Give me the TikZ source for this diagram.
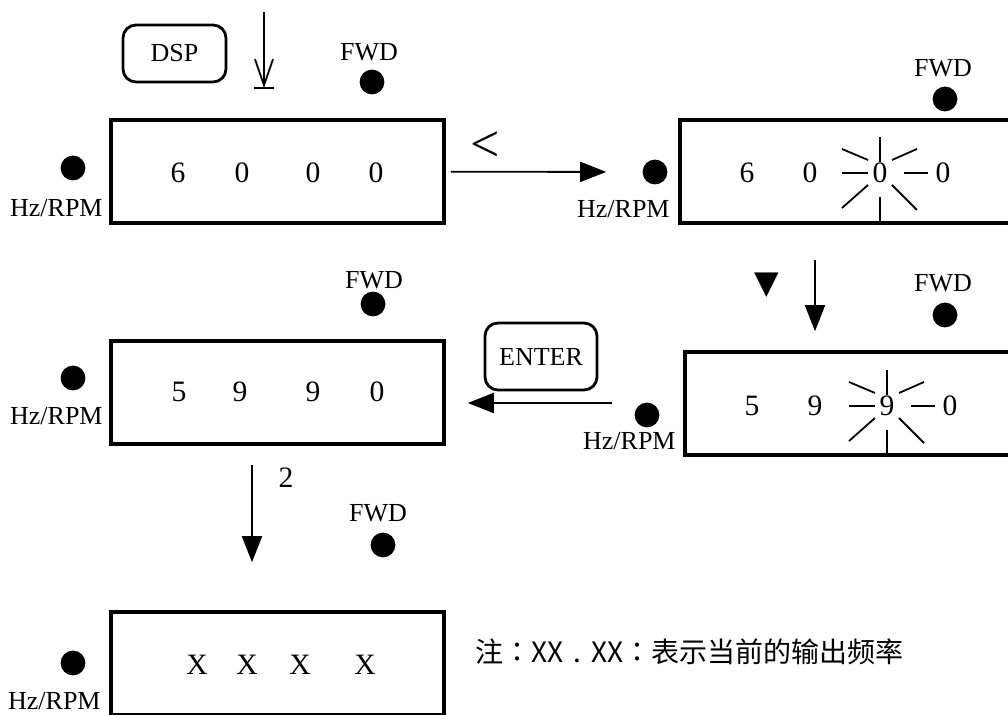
\documentclass[tikz,border=0pt]{standalone}
\usepackage{fontspec}
\setmainfont{Liberation Serif}
\newfontfamily\cjkfont{Noto Sans CJK SC}
\newfontfamily\cjkpunct{Noto Sans CJK TC}
\newfontfamily\symfont{DejaVu Sans}
\usetikzlibrary{arrows.meta}

\begin{document}
\begin{tikzpicture}[x=0.5pt,y=-0.5pt,>={Triangle[length=13pt,width=10pt]},
  font=\fontsize{13}{15}\selectfont,
  disp/.style={draw,line width=1.8pt,minimum width=166.5pt,minimum height=51.5pt,inner sep=0pt},
  key/.style={draw,line width=1.4pt,rounded corners=6.5pt,inner sep=0pt},
  lamp/.style={circle,fill,inner sep=0pt,minimum size=12.4pt},
  digit/.style={font=\fontsize{14.8}{17}\selectfont,inner sep=0pt},
  lbl/.style={inner sep=0pt},
  ray/.style={line width=0.9pt},
  flow/.style={->,line width=0.9pt}]
\useasboundingbox (0,0) rectangle (1008,715);
\clip (0,0) rectangle (1008,715);
% display panels
\node[disp] (boxA) at (277.5,171.5) {};
\node[disp] (boxB) at (846.5,171.5) {};
\node[disp] (boxC) at (851.5,403.5) {};
\node[disp] (boxD) at (277.5,392.5) {};
\node[disp] (boxE) at (277.5,663.5) {};
% digits
\foreach \x/\t [count=\i] in {178/6,242/0,313/0,376/0}
  \node[digit] (dA\i) at (\x,173) {\t};
\foreach \x/\t [count=\i] in {747/6,810/0,880/0,943/0}
  \node[digit] (dB\i) at (\x,173) {\t};
\foreach \x/\t [count=\i] in {752/5,815/9,887/9,950/0}
  \node[digit] (dC\i) at (\x,406) {\t};
\foreach \x/\t [count=\i] in {179/5,240/9,313/9,377/0}
  \node[digit] (dD\i) at (\x,392) {\t};
\foreach \x/\t [count=\i] in {197/X,247/X,300/X,365/X}
  \node[digit] (dE\i) at (\x,665) {\t};
% Hz/RPM lamps
\node[lamp] (hA) at (73,168) {};
\node[lamp] (hB) at (655,172) {};
\node[lamp] (hC) at (647,415) {};
\node[lamp] (hD) at (73,378) {};
\node[lamp] (hE) at (73,663) {};
\node[lbl,anchor=base east] (tA) at (103,217) {Hz/RPM};
\node[lbl,anchor=base east] (tB) at (670,218) {Hz/RPM};
\node[lbl,anchor=base east] (tC) at (676,450) {Hz/RPM};
\node[lbl,anchor=base east] (tD) at (103,425) {Hz/RPM};
\node[lbl,anchor=base east] (tE) at (101,710) {Hz/RPM};
% FWD lamps
\node[lbl] (wA) at (369,52) {FWD};
\node[lamp] (fA) at (372,82) {};
\node[lbl] (wB) at (943,68) {FWD};
\node[lamp] (fB) at (945,99) {};
\node[lbl] (wC) at (943,283) {FWD};
\node[lamp] (fC) at (945,315) {};
\node[lbl] (wD) at (374,280) {FWD};
\node[lamp] (fD) at (373,304) {};
\node[lbl] (wE) at (378,513) {FWD};
\node[lamp] (fE) at (383,545) {};
% keys
\node[key,minimum width=51.5pt,minimum height=28.5pt] (dsp) at (174.5,53.5) {DSP};
\node[key,minimum width=56pt,minimum height=33.5pt] (enter) at (541,356.5) {ENTER};
% key symbols
\node[lbl,font=\fontsize{26}{30}\selectfont] (lt) at (485,147) {<};
\node[lbl,font=\symfont\fontsize{16}{18}\selectfont] (dn) at (767,285) {▼};
\node[digit] (two) at (286,478) {2};
% blinking digit
\foreach \s/\b in {dB3/boxB,dC3/boxC}{
  \draw[ray] (\s) ++(-38,0) -- ++(26,0);
  \draw[ray] (\s) ++(24,0) -- ++(24,0);
  \draw[ray] (\s) ++(0,-36) -- ++(0,25);
  \draw[ray] (\s) ++(0,24) -- (\s |- \b.south);
  \draw[ray] (\s) ++(-38,-24) -- ++(26,11);
  \draw[ray] (\s) ++(12,-13) -- ++(25,-11);
  \draw[ray] (\s) ++(-38,35) -- ++(26,-23);
  \draw[ray] (\s) ++(12,12) -- ++(25,25);
}
% arrows
\coordinate (k0) at (264,12);
\coordinate (k1) at (264,88);
\draw[line width=0.9pt,-{Straight Barb[length=13pt,width=9pt]}] (k0) -- (k1);
\draw[line width=0.9pt] (k1) ++(-10,0) -- ++(20,0);
\draw[flow,shorten <=2.5pt,shorten >=18pt] (boxA) -- (hB);
\coordinate (vC) at (815,260);
\draw[flow,shorten >=9.5pt] (vC) -- (vC |- boxC.north);
\coordinate (eC) at (612,403);
\draw[flow,shorten >=11pt] (eC) -- (eC -| boxD.east);
\coordinate (vE) at (252,465);
\draw[flow,shorten >=24pt] (vE) -- (vE |- boxE.north);
% note
\node[lbl,anchor=west,font=\cjkfont\fontsize{14}{16}\selectfont] (note) at (475,652)
  {注{\cjkpunct ：}XX\hbox to 1em{\hss.\hss}XX{\cjkpunct ：}表示当前的输出频率};
\end{tikzpicture}
\end{document}
